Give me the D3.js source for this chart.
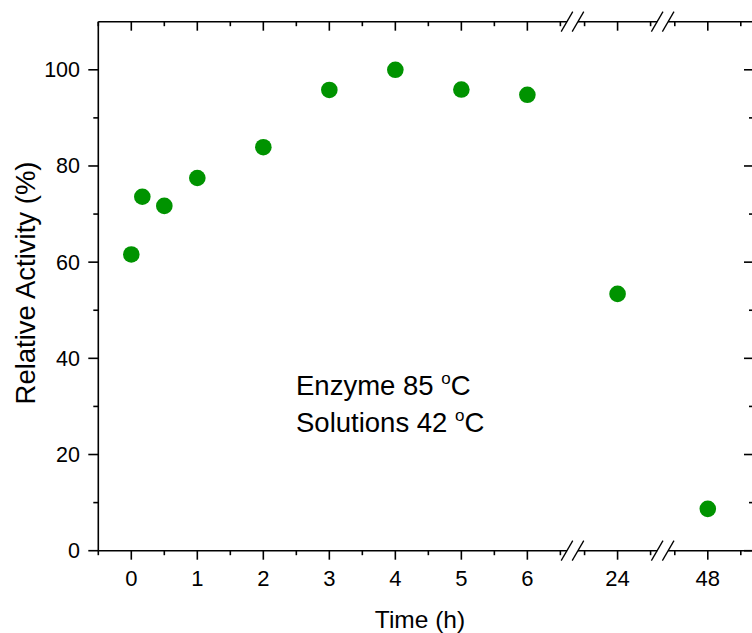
<!DOCTYPE html>
<html>
<head>
<meta charset="utf-8">
<script src="https://cdn.jsdelivr.net/npm/d3@7"></script>
<style>
  html, body { margin: 0; padding: 0; background: #fff; }
  svg { display: block; font-family: Arial, "Liberation Sans", sans-serif; }
</style>
</head>
<body>
<svg id="chart" width="752" height="633"></svg>
<script>
// Incubation time (h) and relative activity (%)
const timeHours = [0, 0.167, 0.5, 1, 2, 3, 4, 5, 6, 24, 48];
const activity  = [61.6, 73.6, 71.7, 77.5, 83.9, 95.8, 100, 95.9, 94.8, 53.4, 8.7];

// Broken time axis: visible pieces of the time range
const timeSegments = [[-0.5, 6.6], [23.4, 24.6], [47.4, 48.7]];
const xMajorTicks = [0, 1, 2, 3, 4, 5, 6, 24, 48];
const xMinorTicks = [-0.5, 0.5, 1.5, 2.5, 3.5, 4.5, 5.5, 6.5, 23.5, 24.5, 47.5, 48.5];
const yMajorTicks = [0, 20, 40, 60, 80, 100];
const yMinorTicks = [10, 30, 50, 70, 90];
const yDomain = [0, 110];

const annotationLines = [["Enzyme 85 ", "C"], ["Solutions 42 ", "C"]];
const xTitle = "Time (h)";
const yTitle = "Relative Activity (%)";

const svg = d3.select("#chart");
const plotLeft = 98.3, plotRight = 754, plotTop = 21.7, plotBottom = 550.7;
const gap = 11;
const green = "#009300";

// Piecewise-linear scale: equal px per hour inside each piece, fixed gaps between
const spanHours = d3.sum(timeSegments, s => s[1] - s[0]);
const pxPerHour = (plotRight - plotLeft - gap * (timeSegments.length - 1)) / spanHours;
const xDomain = [], xRange = [];
let cursor = plotLeft;
timeSegments.forEach((s, i) => {
  if (i > 0) cursor += gap;
  xDomain.push(s[0]); xRange.push(cursor);
  cursor += (s[1] - s[0]) * pxPerHour;
  xDomain.push(s[1]); xRange.push(cursor);
});
const x = d3.scaleLinear().domain(xDomain).range(xRange);
const y = d3.scaleLinear().domain(yDomain).range([plotBottom, plotTop]);

const axisStroke = 1.6;
const g = svg.append("g");

// Horizontal frame lines (bottom and top), one piece per segment
[plotBottom, plotTop].forEach(yy => {
  timeSegments.forEach(s => {
    g.append("line")
      .attr("x1", x(s[0])).attr("x2", x(s[1]))
      .attr("y1", yy).attr("y2", yy)
      .attr("stroke", "#000").attr("stroke-width", axisStroke);
  });
});
// Vertical frame lines
[plotLeft, plotRight].forEach(xx => {
  g.append("line")
    .attr("x1", xx).attr("x2", xx)
    .attr("y1", plotTop).attr("y2", plotBottom)
    .attr("stroke", "#000").attr("stroke-width", axisStroke);
});

// Break marks: a pair of slashes at each gap, on bottom and top
for (let i = 0; i < timeSegments.length - 1; i++) {
  const xa = x(timeSegments[i][1]);
  const xb = x(timeSegments[i + 1][0]);
  [plotBottom, plotTop].forEach(yy => {
    [xa, xb].forEach(xx => {
      g.append("line")
        .attr("x1", xx - 5.8).attr("y1", yy + 10)
        .attr("x2", xx + 5.8).attr("y2", yy - 10)
        .attr("stroke", "#000").attr("stroke-width", 1.3);
    });
  });
}

const majorLen = 9, minorLen = 4.5;
// Bottom ticks (outward) and top ticks (inward)
function xTicks(values, len) {
  values.forEach(v => {
    g.append("line").attr("x1", x(v)).attr("x2", x(v))
      .attr("y1", plotBottom).attr("y2", plotBottom + len)
      .attr("stroke", "#000").attr("stroke-width", axisStroke);
    g.append("line").attr("x1", x(v)).attr("x2", x(v))
      .attr("y1", plotTop).attr("y2", plotTop + len)
      .attr("stroke", "#000").attr("stroke-width", axisStroke);
  });
}
xTicks(xMajorTicks, majorLen);
xTicks(xMinorTicks, minorLen);

// Left ticks (outward) and right ticks (inward)
function yTicks(values, len) {
  values.forEach(v => {
    g.append("line").attr("x1", plotLeft - len).attr("x2", plotLeft)
      .attr("y1", y(v)).attr("y2", y(v))
      .attr("stroke", "#000").attr("stroke-width", axisStroke);
    g.append("line").attr("x1", plotRight - len).attr("x2", plotRight)
      .attr("y1", y(v)).attr("y2", y(v))
      .attr("stroke", "#000").attr("stroke-width", axisStroke);
  });
}
yTicks(yMajorTicks, majorLen + 1);
yTicks(yMinorTicks, minorLen + 0.5);

// Tick labels
g.selectAll("text.xl").data(xMajorTicks).join("text")
  .attr("class", "xl")
  .attr("x", d => x(d)).attr("y", 586)
  .attr("text-anchor", "middle")
  .attr("font-size", 22).attr("fill", "#000")
  .text(d => d);

g.selectAll("text.yl").data(yMajorTicks).join("text")
  .attr("class", "yl")
  .attr("x", 80).attr("y", d => y(d) + 7.5)
  .attr("text-anchor", "end")
  .attr("font-size", 21.5).attr("fill", "#000")
  .text(d => d);

// Axis titles
g.append("text")
  .attr("x", 420).attr("y", 628)
  .attr("text-anchor", "middle")
  .attr("font-size", 24.5).attr("fill", "#000")
  .text(xTitle);

g.append("text")
  .attr("transform", "translate(35,283) rotate(-90)")
  .attr("text-anchor", "middle")
  .attr("font-size", 27.5).attr("fill", "#000")
  .text(yTitle);

// Annotation with superscript degree sign
annotationLines.forEach((parts, i) => {
  const t = g.append("text")
    .attr("x", 296).attr("y", 395 + i * 37)
    .attr("font-size", 27.5).attr("fill", "#000");
  t.append("tspan").text(parts[0]);
  t.append("tspan").attr("font-size", 17).attr("dy", -11).text("o");
  t.append("tspan").attr("dy", 11).text(parts[1]);
});

// Data points
g.selectAll("circle.pt").data(timeHours.map((t, i) => [t, activity[i]])).join("circle")
  .attr("class", "pt")
  .attr("cx", d => x(d[0])).attr("cy", d => y(d[1]))
  .attr("r", 8.3)
  .attr("fill", green);
</script>
</body>
</html>
